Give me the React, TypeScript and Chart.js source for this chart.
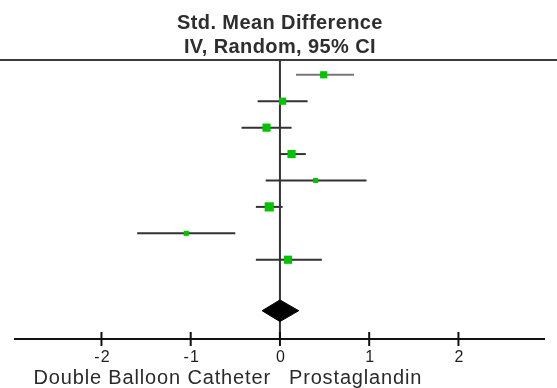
import React, { useEffect, useRef } from "react";
import { Chart, registerables } from "chart.js";

Chart.register(...registerables);

// ---- data ----
const studyRows = [1, 2, 3, 4, 5, 6, 7, 8];
const smd = [0.49, 0.03, -0.15, 0.13, 0.4, -0.12, -1.05, 0.09];
const ciLow = [0.18, -0.25, -0.43, 0.0, -0.16, -0.27, -1.6, -0.27];
const ciHigh = [0.83, 0.31, 0.13, 0.29, 0.97, 0.03, -0.5, 0.47];
const weights = [11.6, 11.6, 15.2, 15.2, 6.0, 19.2, 6.0, 15.2];
const overallRow = 9.93;
const overallSmd = 0.0;
const overallLow = -0.2;
const overallHigh = 0.21;
const xTicks = [-2, -1, 0, 1, 2];
const titleLines = ["Std. Mean Difference", "IV, Random, 95% CI"];
const favoursLeft = "Double Balloon Catheter";
const favoursRight = "Prostaglandin";

const DIAMOND_HALF = 0.41;
const FONT = '"Liberation Sans", Arial, Helvetica, sans-serif';

const forestPlugin = {
  id: "forestDecor",
  beforeDatasetsDraw(chart: any) {
    const { ctx, chartArea, scales } = chart;
    const x = scales.x;
    const x0 = x.getPixelForValue(0);
    const bottom = chartArea.bottom;
    ctx.save();
    // top rule
    ctx.strokeStyle = "#3c3c3c";
    ctx.lineWidth = 2;
    ctx.beginPath();
    ctx.moveTo(0, chartArea.top);
    ctx.lineTo(chart.width, chartArea.top);
    ctx.stroke();
    // zero line
    ctx.strokeStyle = "#333333";
    ctx.beginPath();
    ctx.moveTo(x0, chartArea.top);
    ctx.lineTo(x0, bottom);
    ctx.stroke();
    // axis
    ctx.strokeStyle = "#111111";
    ctx.beginPath();
    ctx.moveTo(chartArea.left, bottom);
    ctx.lineTo(chartArea.right, bottom);
    ctx.stroke();
    // ticks + labels
    ctx.lineWidth = 2;
    ctx.fillStyle = "#1e1e1e";
    ctx.font = "16px " + FONT;
    ctx.textAlign = "center";
    ctx.textBaseline = "alphabetic";
    (ctx as any).letterSpacing = "1px";
    xTicks.forEach((t) => {
      const px = x.getPixelForValue(t);
      ctx.beginPath();
      ctx.moveTo(px, bottom - 7);
      ctx.lineTo(px, bottom + 7);
      ctx.stroke();
      ctx.fillText(String(t), px + 1, bottom + 23);
    });
    // title
    ctx.fillStyle = "#2e2e2e";
    ctx.font = "bold 20px " + FONT;
    (ctx as any).letterSpacing = "0.4px";
    ctx.textAlign = "center";
    ctx.fillText(titleLines[0], x0, 29);
    ctx.fillText(titleLines[1], x0, 53);
    // favours labels
    ctx.fillStyle = "#2a2a2a";
    ctx.font = "20px " + FONT;
    (ctx as any).letterSpacing = "0.85px";
    ctx.textAlign = "right";
    ctx.fillText(favoursLeft, x0 - 9, 384);
    ctx.textAlign = "left";
    ctx.fillText(favoursRight, x0 + 9, 384);
    ctx.restore();
  },
};

export default function App() {
  const ref = useRef<HTMLCanvasElement | null>(null);
  useEffect(() => {
    if (!ref.current) return;
    const ciSets = studyRows.map((row, i) => ({
      type: "line" as const,
      data: [
        { x: ciLow[i], y: row },
        { x: ciHigh[i], y: row },
      ],
      borderColor: i === 0 ? "#777777" : "#333333",
      borderWidth: 2,
      pointRadius: 0,
      fill: false,
      order: 2,
    }));
    const pointSet = {
      type: "line" as const,
      data: studyRows.map((row, i) => ({ x: smd[i], y: row })),
      showLine: false,
      pointStyle: "rect",
      pointRadius: weights.map((w) => (Math.sqrt(w) * 2.1) / Math.SQRT2),
      pointBackgroundColor: "#00c400",
      pointBorderColor: "#00c400",
      pointBorderWidth: 0,
      order: 0,
    };
    const diamondSet = {
      type: "line" as const,
      data: [
        { x: overallLow, y: overallRow },
        { x: overallSmd, y: overallRow - DIAMOND_HALF },
        { x: overallHigh, y: overallRow },
        { x: overallSmd, y: overallRow + DIAMOND_HALF },
        { x: overallLow, y: overallRow },
      ],
      borderColor: "#000000",
      backgroundColor: "#000000",
      borderWidth: 1,
      pointRadius: 0,
      tension: 0,
      fill: "shape",
      order: 1,
    };
    const chart = new Chart(ref.current, {
      type: "line",
      data: { datasets: [pointSet, diamondSet, ...ciSets] as any },
      options: {
        animation: false,
        responsive: false,
        events: [],
        layout: { padding: { left: 14, right: 12, top: 60, bottom: 49 } },
        scales: {
          x: { type: "linear", min: -2.98, max: 2.97, display: false },
          y: { type: "linear", min: 0.44, max: 11, reverse: true, display: false },
        },
        plugins: {
          legend: { display: false },
          title: { display: false },
          tooltip: { enabled: false },
        },
      },
      plugins: [forestPlugin],
    });
    return () => chart.destroy();
  }, []);
  return (
    <div style={{ position: "absolute", left: 0, top: 0, width: 557, height: 388, background: "#fff" }}>
      <canvas ref={ref} width={557} height={388} style={{ display: "block" }} />
    </div>
  );
}
